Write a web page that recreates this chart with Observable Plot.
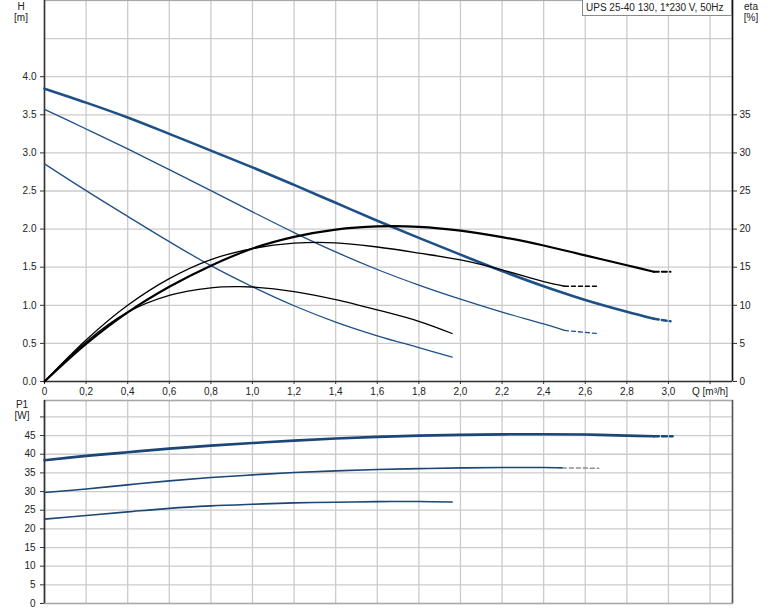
<!DOCTYPE html>
<html>
<head>
<meta charset="utf-8">
<script src="https://cdn.jsdelivr.net/npm/d3@7"></script>
<script src="https://cdn.jsdelivr.net/npm/@observablehq/plot@0.6"></script>
<style>
  html, body { margin: 0; padding: 0; background: #fff; }
  #wrap { position: relative; width: 774px; height: 611px; overflow: hidden; font-family: "Liberation Sans", Arial, sans-serif; font-size: 10px; color: #222; }
  #wrap svg { position: absolute; left: 0; }
  .lbl { position: absolute; text-align: center; line-height: 11px; font-size: 10px; color: #222; }
  #title { position: absolute; left: 582px; top: -1px; height: 17px; border: 1px solid #8a8a8a; background: #fff; font-size: 10px; line-height: 15px; padding-left: 3px; white-space: nowrap; box-sizing: border-box; width: 150px; }
</style>
</head>
<body>
<div id="wrap"></div>
<script>
// ---------- Data ----------
const titleText = "UPS 25-40 130, 1*230 V, 50Hz";

const qTicks = [0, 0.2, 0.4, 0.6, 0.8, 1.0, 1.2, 1.4, 1.6, 1.8, 2.0, 2.2, 2.4, 2.6, 2.8, 3.0, 3.2];
const hTicks = [0, 0.5, 1.0, 1.5, 2.0, 2.5, 3.0, 3.5, 4.0];
const hGrid = [0.5, 1.0, 1.5, 2.0, 2.5, 3.0, 3.5, 4.0, 4.5];
const etaTicks = [0, 5, 10, 15, 20, 25, 30, 35];
const pTicks = [0, 5, 10, 15, 20, 25, 30, 35, 40, 45, 50];

// Head H [m] — three speeds (max, mid, min)
const qHMax = [0, 0.2, 0.4, 0.6, 0.8, 1.0, 1.2, 1.4, 1.6, 1.8, 2.0, 2.2, 2.4, 2.6, 2.8, 2.93];
const hMax  = [3.843, 3.66, 3.465, 3.25, 3.03, 2.81, 2.58, 2.345, 2.11, 1.885, 1.665, 1.45, 1.25, 1.07, 0.915, 0.823];
const qHMaxDash = [2.93, 3.01];
const hMaxDash  = [0.823, 0.79];

const qHMid = [0, 0.2, 0.4, 0.6, 0.8, 1.0, 1.2, 1.4, 1.6, 1.8, 2.0, 2.2, 2.4, 2.5];
const hMid  = [3.572, 3.314, 3.052, 2.78, 2.505, 2.226, 1.954, 1.70, 1.47, 1.265, 1.08, 0.91, 0.755, 0.67];
const qHMidDash = [2.5, 2.665];
const hMidDash  = [0.67, 0.628];

const qHMin = [0, 0.2, 0.4, 0.6, 0.8, 1.0, 1.2, 1.4, 1.6, 1.8, 1.96];
const hMin  = [2.856, 2.505, 2.167, 1.835, 1.52, 1.243, 0.994, 0.78, 0.60, 0.445, 0.32];

// Efficiency eta [%]
const qEMax = [0, 0.2, 0.4, 0.6, 0.8, 1.0, 1.2, 1.4, 1.6, 1.8, 2.0, 2.2, 2.4, 2.6, 2.8, 2.93];
const eMax  = [0, 4.93, 9.07, 12.43, 15.2, 17.45, 18.98, 19.94, 20.35, 20.3, 19.8, 18.95, 17.85, 16.55, 15.25, 14.4];
const qEMaxDash = [2.93, 3.01];
const eMaxDash  = [14.4, 14.4];

const qEMid = [0, 0.2, 0.4, 0.6, 0.8, 1.0, 1.2, 1.4, 1.6, 1.8, 2.0, 2.2, 2.4, 2.5];
const eMid  = [0, 5.45, 10.0, 13.5, 16.0, 17.45, 18.15, 18.2, 17.65, 16.85, 15.95, 14.65, 13.1, 12.5];
const qEMidDash = [2.5, 2.665];
const eMidDash  = [12.5, 12.5];

const qEMin = [0, 0.2, 0.4, 0.6, 0.8, 0.93, 1.0, 1.2, 1.4, 1.6, 1.8, 1.96];
const eMin  = [0, 5.2, 9.1, 11.3, 12.3, 12.45, 12.4, 11.8, 10.75, 9.4, 7.9, 6.3];

// Power P1 [W]
const qPMax = [0, 0.2, 0.4, 0.6, 0.8, 1.0, 1.2, 1.4, 1.6, 1.8, 2.0, 2.2, 2.4, 2.6, 2.8, 2.93];
const pMax  = [38.4, 39.55, 40.54, 41.5, 42.3, 43.0, 43.66, 44.2, 44.64, 45.0, 45.18, 45.33, 45.36, 45.27, 45.0, 44.8];
const qPMaxDash = [2.93, 3.02];
const pMaxDash  = [44.8, 44.8];

const qPMid = [0, 0.2, 0.4, 0.6, 0.8, 1.0, 1.2, 1.4, 1.6, 1.8, 2.0, 2.2, 2.4, 2.49];
const pMid  = [29.73, 30.7, 31.8, 32.86, 33.75, 34.46, 35.1, 35.55, 35.9, 36.15, 36.34, 36.43, 36.43, 36.34];
const qPMidDash = [2.49, 2.665];
const pMidDash  = [36.34, 36.25];

const qPMin = [0, 0.2, 0.4, 0.6, 0.8, 1.0, 1.2, 1.4, 1.6, 1.8, 1.96];
const pMin  = [22.6, 23.57, 24.55, 25.5, 26.16, 26.6, 26.96, 27.14, 27.3, 27.32, 27.2];

// ---------- Build ----------
const xDomain = [0, 3.308];
const pts = (qs, vs) => qs.map((q, i) => ({q, v: vs[i]}));
const etaPts = (qs, vs) => qs.map((q, i) => ({q, v: vs[i] / 10})); // eta shares the H pixel scale (1 m = 10 %)

const blue = "#1e5088";
const navy = "#1b4675";
const gridStyle = {stroke: "#cbcbcb", strokeOpacity: 1, strokeWidth: 1.3};
const fmtQ = d => d === 0 ? "0" : d === 3.2 ? "Q [m³/h]" : d.toFixed(1).replace(".", ",");

const line = (data, opts) => Plot.line(data, {x: "q", y: "v", curve: "catmull-rom", ...opts});

const topChart = Plot.plot({
  width: 774, height: 400,
  marginLeft: 44, marginRight: 42, marginTop: 0, marginBottom: 19,
  x: {domain: xDomain, axis: null},
  y: {domain: [0, 5], axis: null},
  style: {fontFamily: '"Liberation Sans", Arial, sans-serif', fontSize: "10px", color: "#222", background: "transparent", overflow: "visible"},
  marks: [
    Plot.gridX(qTicks.filter(d => d > 0), gridStyle),
    Plot.gridY(hGrid, gridStyle),
    Plot.frame({stroke: "#a8a8a8", strokeWidth: 1.2}),
    Plot.ruleX([0], {stroke: "#333", strokeWidth: 1.6}),
    Plot.ruleX([xDomain[1]], {stroke: "#111", strokeWidth: 1.6}),
    Plot.ruleY([0], {stroke: "#333", strokeWidth: 1.6}),
    Plot.axisY(hTicks, {anchor: "left", tickSize: 4, tickPadding: 4, tickFormat: d => d.toFixed(1), label: null, stroke: "#333"}),
    Plot.axisY(etaTicks.map(e => e / 10), {anchor: "right", tickSize: 4, tickPadding: 3, tickFormat: d => String(Math.round(d * 10)), label: null, stroke: "#333"}),
    Plot.axisX(qTicks, {anchor: "bottom", tickSize: 3, tickPadding: 3, tickFormat: fmtQ, label: null, stroke: "#333"}),
    // Head curves
    line(pts(qHMin, hMin), {stroke: blue, strokeWidth: 1.3}),
    line(pts(qHMid, hMid), {stroke: blue, strokeWidth: 1.3}),
    line(pts(qHMidDash, hMidDash), {stroke: blue, strokeWidth: 1.3, strokeDasharray: "4,3", curve: "linear"}),
    line(pts(qHMax, hMax), {stroke: blue, strokeWidth: 2.6}),
    line(pts(qHMaxDash, hMaxDash), {stroke: blue, strokeWidth: 2.4, strokeDasharray: "5,3", curve: "linear"}),
    // Efficiency curves
    line(etaPts(qEMin, eMin), {stroke: "#000", strokeWidth: 1.3}),
    line(etaPts(qEMid, eMid), {stroke: "#000", strokeWidth: 1.3}),
    line(etaPts(qEMidDash, eMidDash), {stroke: "#000", strokeWidth: 1.4, strokeDasharray: "4,3", curve: "linear"}),
    line(etaPts(qEMax, eMax), {stroke: "#000", strokeWidth: 2.2}),
    line(etaPts(qEMaxDash, eMaxDash), {stroke: "#000", strokeWidth: 2.0, strokeDasharray: "5,3", curve: "linear"})
  ]
});
topChart.style.top = "0px";

const bottomChart = Plot.plot({
  width: 774, height: 216,
  marginLeft: 44, marginRight: 42, marginTop: 5, marginBottom: 8,
  x: {domain: xDomain, axis: null},
  y: {domain: [0, 54.4], axis: null},
  style: {fontFamily: '"Liberation Sans", Arial, sans-serif', fontSize: "10px", color: "#222", background: "transparent", overflow: "visible"},
  marks: [
    Plot.gridX(qTicks.filter(d => d > 0), gridStyle),
    Plot.gridY(pTicks.filter(d => d > 0), gridStyle),
    Plot.frame({stroke: "#a8a8a8", strokeWidth: 1.6}),
    Plot.ruleX([0], {stroke: "#333", strokeWidth: 1.6}),
    Plot.ruleX([xDomain[1]], {stroke: "#555", strokeWidth: 1.4}),
    Plot.axisY(pTicks, {anchor: "left", tickSize: 4, tickPadding: 5, tickFormat: d => d === 50 ? "" : String(d), label: null, stroke: "#333"}),
    line(pts(qPMin, pMin), {stroke: navy, strokeWidth: 1.6}),
    line(pts(qPMid, pMid), {stroke: navy, strokeWidth: 1.6}),
    line(pts(qPMidDash, pMidDash), {stroke: "#8a8f99", strokeWidth: 1.5, strokeDasharray: "4,3", curve: "linear"}),
    line(pts(qPMax, pMax), {stroke: navy, strokeWidth: 2.6}),
    line(pts(qPMaxDash, pMaxDash), {stroke: navy, strokeWidth: 2.4, strokeDasharray: "5,3", curve: "linear"})
  ]
});
bottomChart.style.top = "395px";

const wrap = document.getElementById("wrap");
wrap.appendChild(topChart);
wrap.appendChild(bottomChart);

function addLabel(text, left, topPx, width) {
  const d = document.createElement("div");
  d.className = "lbl";
  d.style.left = left + "px";
  d.style.top = topPx + "px";
  d.style.width = width + "px";
  d.innerHTML = text;
  wrap.appendChild(d);
}
addLabel("H<br>[m]", 7, 1, 28);
addLabel("eta<br>[%]", 737, 1, 28);
addLabel("P1<br>[W]", 8, 399, 28);

const t = document.createElement("div");
t.id = "title";
t.textContent = titleText;
wrap.appendChild(t);
</script>
</body>
</html>
